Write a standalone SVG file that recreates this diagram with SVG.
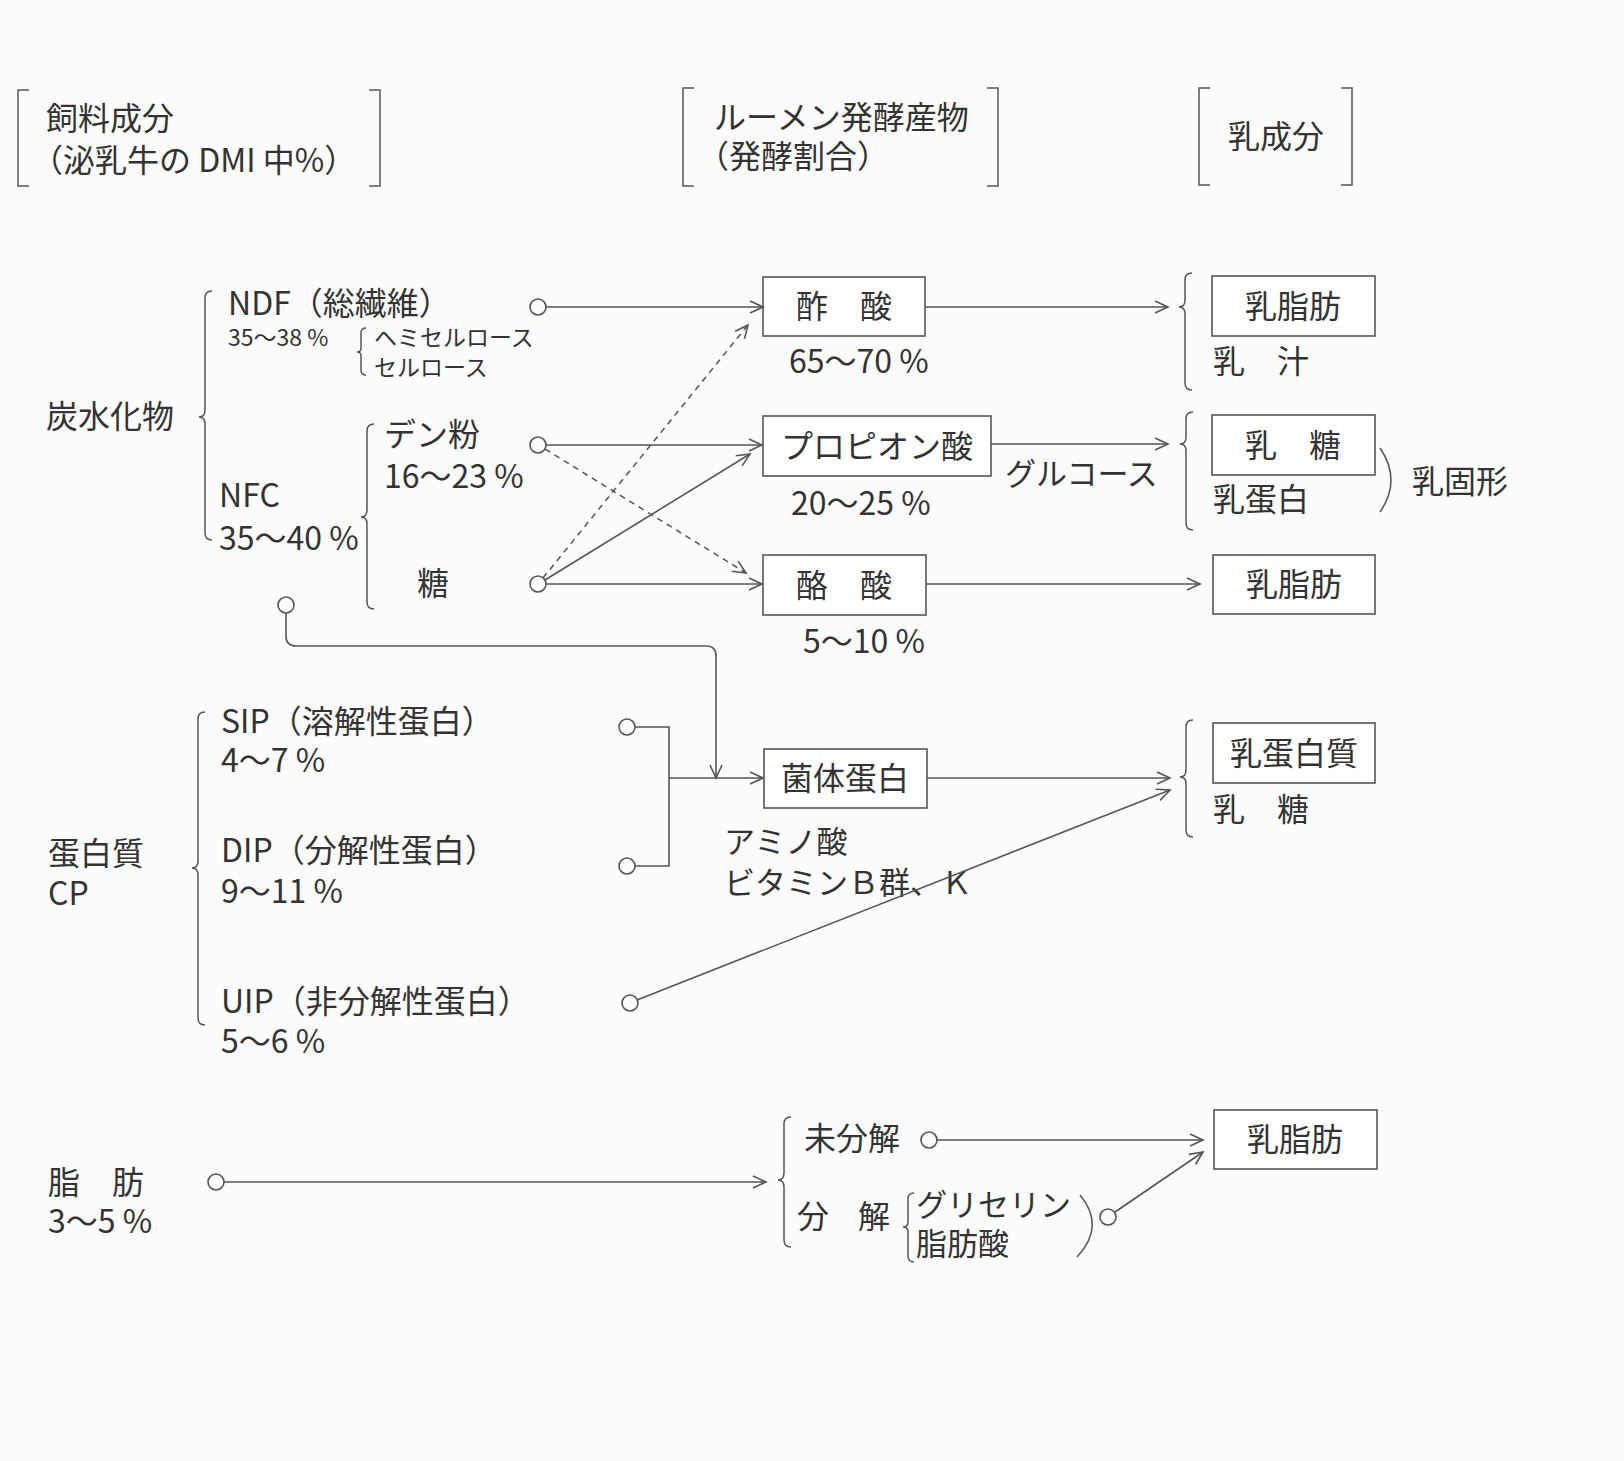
<svg xmlns="http://www.w3.org/2000/svg" width="1624" height="1461" viewBox="0 0 1624 1461">
<style>
text{font-family:"Noto Sans CJK JP","Noto Sans",sans-serif;fill:#333;font-size:32px}
.s{font-size:23px}
.m{font-size:31px}
.c{text-anchor:middle}
.ln{fill:none;stroke:#555;stroke-width:1.6}
.ds{fill:none;stroke:#555;stroke-width:1.5;stroke-dasharray:6 5}
.br{fill:none;stroke:#555;stroke-width:1.5}
.box{fill:#fff;stroke:#555;stroke-width:1.6}
.dot{fill:#fff;stroke:#555;stroke-width:1.6}
</style>
<defs>
<marker id="ah" markerUnits="userSpaceOnUse" markerWidth="16" markerHeight="14" refX="14" refY="7" orient="auto"><path d="M1,1 L14,7 L1,13" fill="none" stroke="#555" stroke-width="1.6"/></marker>
</defs>
<rect x="0" y="0" width="1624" height="1461" fill="#fcfcfc"/>

<g id="headers">
<g id="h-feed">
<path class="br" d="M29,90 H18 V186 H29"/>
<path class="br" d="M369,90 H380 V186 H369"/>
<text x="46" y="130">飼料成分</text>
<text x="31" y="172">（泌乳牛の DMI 中%）</text>
</g>
<g id="h-rumen">
<path class="br" d="M694,88 H683 V186 H694"/>
<path class="br" d="M987,88 H998 V186 H987"/>
<text x="714" y="129">ルーメン発酵産物</text>
<text x="697" y="168">（発酵割合）</text>
</g>
<g id="h-milk">
<path class="br" d="M1210,88 H1199 V185 H1210"/>
<path class="br" d="M1341,88 H1352 V185 H1341"/>
<text x="1228" y="148">乳成分</text>
</g>
</g>

<g id="carbo">
<text x="46" y="428">炭水化物</text>
<path class="br" d="M212,291 Q205,291 205,298 V410 Q205,417 199,417 Q205,417 205,424 V533 Q205,540 212,540"/>
<g id="ndf">
<text x="228" y="315">NDF（総繊維）</text>
<text class="s" x="228" y="346">35～38 %</text>
<path class="br" d="M366,328 Q361,328 361,333 V348 Q361,352 357,352 Q361,352 361,356 V370 Q361,375 366,375"/>
<text class="s" x="374" y="346">ヘミセルロース</text>
<text class="s" x="374" y="376">セルロース</text>
</g>
<g id="nfc">
<text x="219" y="507">NFC</text>
<text x="219" y="550">35～40 %</text>
<path class="br" d="M374,424 Q367,424 367,431 V510 Q367,517 361,517 Q367,517 367,524 V602 Q367,609 374,609"/>
<text x="384" y="446">デン粉</text>
<text x="384" y="488">16～23 %</text>
<text x="417" y="595">糖</text>
</g>
</g>

<g id="protein">
<text x="48" y="865">蛋白質</text>
<text x="48" y="905">CP</text>
<path class="br" d="M205,712 Q198,712 198,719 V861 Q198,868 192,868 Q198,868 198,875 V1018 Q198,1025 205,1025"/>
<text x="221" y="733">SIP（溶解性蛋白）</text>
<text x="221" y="772">4～7 %</text>
<text x="221" y="862">DIP（分解性蛋白）</text>
<text x="221" y="903">9～11 %</text>
<text x="221" y="1013">UIP（非分解性蛋白）</text>
<text x="221" y="1053">5～6 %</text>
</g>

<g id="fat">
<text x="48" y="1194">脂　肪</text>
<text x="48" y="1233">3～5 %</text>
<path class="br" d="M791,1117 Q784,1117 784,1124 V1173 Q784,1180 778,1180 Q784,1180 784,1187 V1240 Q784,1247 791,1247"/>
<text x="804" y="1150">未分解</text>
<text x="797" y="1228" textLength="93" lengthAdjust="spacing">分　解</text>
<path class="br" d="M914,1193 Q908,1193 908,1199 V1222 Q908,1227 903,1227 Q908,1227 908,1232 V1256 Q908,1262 914,1262"/>
<text class="m" x="916" y="1216">グリセリン</text>
<text class="m" x="916" y="1255">脂肪酸</text>
<path class="br" d="M1080,1195 Q1106,1226 1077,1257"/>
</g>

<g id="vfa">
<g id="acetic"><rect class="box" x="763" y="277" width="162" height="59"/><text class="c" x="844" y="318">酢　酸</text><text x="789" y="373">65～70 %</text></g>
<g id="propionic"><rect class="box" x="763" y="416" width="228" height="60"/><text class="c" x="877" y="458">プロピオン酸</text><text x="791" y="515">20～25 %</text></g>
<g id="butyric"><rect class="box" x="763" y="555" width="163" height="60"/><text class="c" x="844" y="597">酪　酸</text><text x="803" y="653">5～10 %</text></g>
<g id="microbial"><rect class="box" x="764" y="749" width="163" height="59"/><text class="c" x="845" y="790">菌体蛋白</text>
<text class="m" x="724" y="853">アミノ酸</text>
<text class="m" x="724" y="894">ビタミンＢ群、Ｋ</text></g>
</g>

<g id="milk">
<g id="mf1"><path class="br" d="M1192,273 Q1185,273 1185,280 V300 Q1185,307 1179,307 Q1185,307 1185,314 V383 Q1185,390 1192,390"/>
<rect class="box" x="1212" y="276" width="163" height="60"/><text class="c" x="1293" y="318">乳脂肪</text>
<text x="1213" y="373">乳　汁</text></g>
<g id="ml1"><path class="br" d="M1193,412 Q1186,412 1186,419 V437 Q1186,444 1180,444 Q1186,444 1186,451 V523 Q1186,530 1193,530"/>
<rect class="box" x="1212" y="415" width="163" height="60"/><text class="c" x="1293" y="457">乳　糖</text>
<text x="1213" y="511">乳蛋白</text>
<path class="br" d="M1380,448 Q1402,480 1380,512"/>
<text x="1412" y="493">乳固形</text></g>
<g id="mf2"><rect class="box" x="1213" y="555" width="162" height="59"/><text class="c" x="1294" y="596">乳脂肪</text></g>
<g id="mp"><path class="br" d="M1193,720 Q1186,720 1186,727 V770 Q1186,777 1180,777 Q1186,777 1186,784 V830 Q1186,837 1193,837"/>
<rect class="box" x="1213" y="723" width="162" height="60"/><text class="c" x="1294" y="765">乳蛋白質</text>
<text x="1213" y="821">乳　糖</text></g>
<g id="mf3"><rect class="box" x="1214" y="1110" width="163" height="59"/><text class="c" x="1295" y="1151">乳脂肪</text></g>
</g>

<g id="connectors">
<path class="ln" d="M546,307 H763" marker-end="url(#ah)"/>
<path class="ln" d="M546,445 H762" marker-end="url(#ah)"/>
<path class="ln" d="M546,584 H762" marker-end="url(#ah)"/>
<path class="ln" d="M545,580 L750,454" marker-end="url(#ah)"/>
<path class="ds" d="M545,449 L746,573" marker-end="url(#ah)"/>
<path class="ds" d="M543,578 L748,325" marker-end="url(#ah)"/>
<path class="ln" d="M286,613 V636 Q286,646 296,646 H706 Q716,646 716,656 V778" marker-end="url(#ah)"/>
<path class="ln" d="M635,727 H669 V866 H635"/>
<path class="ln" d="M669,778 H763" marker-end="url(#ah)"/>
<path class="ln" d="M637,1000 L1170,790" marker-end="url(#ah)"/>
<path class="ln" d="M925,307 H1168" marker-end="url(#ah)"/>
<path class="ln" d="M991,444 H1168" marker-end="url(#ah)"/>
<text class="m" x="1005" y="485">グルコース</text>
<path class="ln" d="M926,584 H1200" marker-end="url(#ah)"/>
<path class="ln" d="M927,778 H1170" marker-end="url(#ah)"/>
<path class="ln" d="M224,1182 H766" marker-end="url(#ah)"/>
<path class="ln" d="M937,1140 H1203" marker-end="url(#ah)"/>
<path class="ln" d="M1115,1212 L1203,1152" marker-end="url(#ah)"/>
<circle class="dot" cx="538" cy="307" r="8"/>
<circle class="dot" cx="538" cy="445" r="8"/>
<circle class="dot" cx="538" cy="584" r="8"/>
<circle class="dot" cx="286" cy="605" r="8"/>
<circle class="dot" cx="627" cy="727" r="8"/>
<circle class="dot" cx="627" cy="866" r="8"/>
<circle class="dot" cx="630" cy="1003" r="8"/>
<circle class="dot" cx="216" cy="1182" r="8"/>
<circle class="dot" cx="929" cy="1140" r="8"/>
<circle class="dot" cx="1108" cy="1217" r="8"/>
</g>
</svg>
